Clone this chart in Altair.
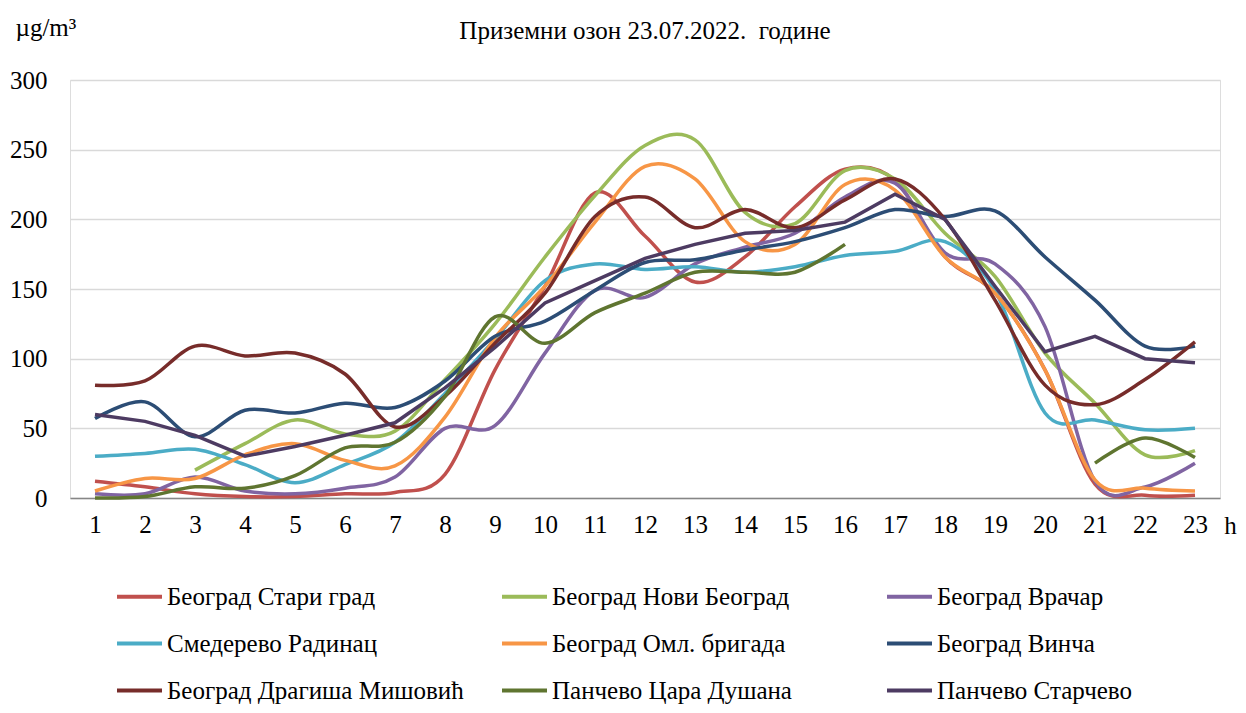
import altair as alt
import pandas as pd

hours = list(range(1, 24))

stations = [
    "Београд Стари град",
    "Београд Нови Београд",
    "Београд Врачар",
    "Смедерево Радинац",
    "Београд Омл. бригада",
    "Београд Винча",
    "Београд Драгиша Мишовић",
    "Панчево Цара Душана",
    "Панчево Старчево",
]
colors = ["#C0504D", "#9BBB59", "#8064A2", "#4BACC6", "#F79646",
          "#2C4D75", "#772C2A", "#5F7530", "#4D3B62"]

stari_grad = [12, 8, 3, 1, 1, 3, 4, 17, 92, 152, 219, 188, 155, 173, 209, 236, 228, 173, 147, 92, 10, 2, 2]
novi_beograd = [None, None, 20, 39, 56, 46, 48, 85, 125, 173, 217, 253, 257, 205, 197, 235, 229, 190, 159, 104, 68, 31, 34]
vracar = [3, 3, 15, 5, 3, 7, 15, 50, 52, 104, 149, 144, 168, 180, 190, 216, 226, 176, 168, 123, 12, 8, 25]
smederevo = [30, 32, 35, 24, 11, 24, 40, 75, 114, 156, 168, 164, 166, 162, 166, 174, 177, 184, 149, 61, 56, 49, 50]
oml_brigada = [5, 14, 14, 31, 39, 27, 23, 58, 115, 152, 198, 238, 229, 184, 182, 225, 221, 173, 147, 92, 13, 7, 5]
vinca = [57, 69, 44, 63, 61, 68, 65, 84, 116, 127, 149, 169, 171, 178, 184, 194, 207, 202, 206, 173, 142, 109, 109]
misovic = [81, 84, 109, 102, 104, 89, 51, 73, 111, 147, 202, 216, 194, 207, 194, 214, 229, 200, 142, 81, 67, 85, 112]
cara_dusana = [0, 1, 8, 7, 16, 36, 40, 73, 130, 111, 133, 147, 162, 162, 162, 182, None, None, None, None, 25, 43, 29]
starcevo = [60, 55, 45, 30, 37, 45, 54, 79, 108, 140, 156, 172, 182, 190, 192, 198, 218, 200, 152, 105, 116, 100, 97]

series = [stari_grad, novi_beograd, vracar, smederevo, oml_brigada,
          vinca, misovic, cara_dusana, starcevo]

rows = []
for name, vals in zip(stations, series):
    seg = 0
    prev_none = True
    for h, v in zip(hours, vals):
        if v is None:
            prev_none = True
            continue
        if prev_none:
            seg += 1
            prev_none = False
        rows.append({"station": name, "hour": h, "value": v, "seg": f"{name}-{seg}"})
df = pd.DataFrame(rows)

FONT = "Times New Roman"

color = alt.Color(
    "station:N",
    scale=alt.Scale(domain=stations, range=colors),
    legend=alt.Legend(
        title=None,
        orient="none",
        legendX=45,
        legendY=492,
        columns=3,
        direction="horizontal",
        gridAlign="all",
        columnPadding=30,
        rowPadding=9,
        symbolType="stroke",
        symbolSize=2025,
        symbolStrokeWidth=4,
        labelOffset=3,
        labelFont=FONT,
        labelFontSize=25,
        labelColor="#000000",
        labelLimit=400,
    ),
)

x = alt.X(
    "hour:Q",
    scale=alt.Scale(domain=[0.5, 23.5], nice=False, zero=False),
    axis=alt.Axis(
        values=hours,
        format="d",
        grid=False,
        ticks=False,
        tickSize=0,
        domain=True,
        domainColor="#868686",
        domainWidth=1.5,
        labelFont=FONT,
        labelFontSize=25,
        labelColor="#000000",
        labelPadding=14,
        title="h",
        titleFont=FONT,
        titleFontSize=25,
        titleFontWeight="normal",
        titleColor="#000000",
        titleX=1160,
        titleY=27,
        titleAngle=0,
        titleAlign="center",
        titleBaseline="middle",
    ),
)

y = alt.Y(
    "value:Q",
    scale=alt.Scale(domain=[0, 300], nice=False),
    axis=alt.Axis(
        values=[0, 50, 100, 150, 200, 250, 300],
        grid=True,
        gridColor="#D9D9D9",
        gridWidth=1.3,
        domain=False,
        ticks=False,
        tickSize=0,
        labelFont=FONT,
        labelFontSize=25,
        labelColor="#000000",
        labelPadding=23,
        title="µg/m³",
        titleFont=FONT,
        titleFontSize=25,
        titleFontWeight="normal",
        titleColor="#000000",
        titleX=-55,
        titleY=-53,
        titleAngle=0,
        titleAlign="left",
        titleBaseline="middle",
    ),
)

base = alt.Chart(df).encode(x=x, y=y, color=color, detail="seg:N")

smooth = base.transform_filter(
    alt.datum.station != "Панчево Старчево"
).mark_line(interpolate="cardinal", strokeWidth=3.5)

linear = base.transform_filter(
    alt.datum.station == "Панчево Старчево"
).mark_line(interpolate="linear", strokeWidth=3.5)

chart = alt.layer(smooth, linear).properties(
    width=1150,
    height=418,
    padding={"left": 62, "top": 72, "right": 18, "bottom": 207},
    autosize=alt.AutoSizeParams(type="none"),
    title=alt.TitleParams(
        text="Приземни озон 23.07.2022. \u00a0године",
        font=FONT,
        fontSize=25,
        fontWeight="normal",
        color="#000000",
        anchor="middle",
        frame="group",
        offset=-29,
    ),
).configure_view(stroke=None).configure(background="#FFFFFF")

chart.save("out.html", embed_options={"renderer": "svg", "actions": False})
